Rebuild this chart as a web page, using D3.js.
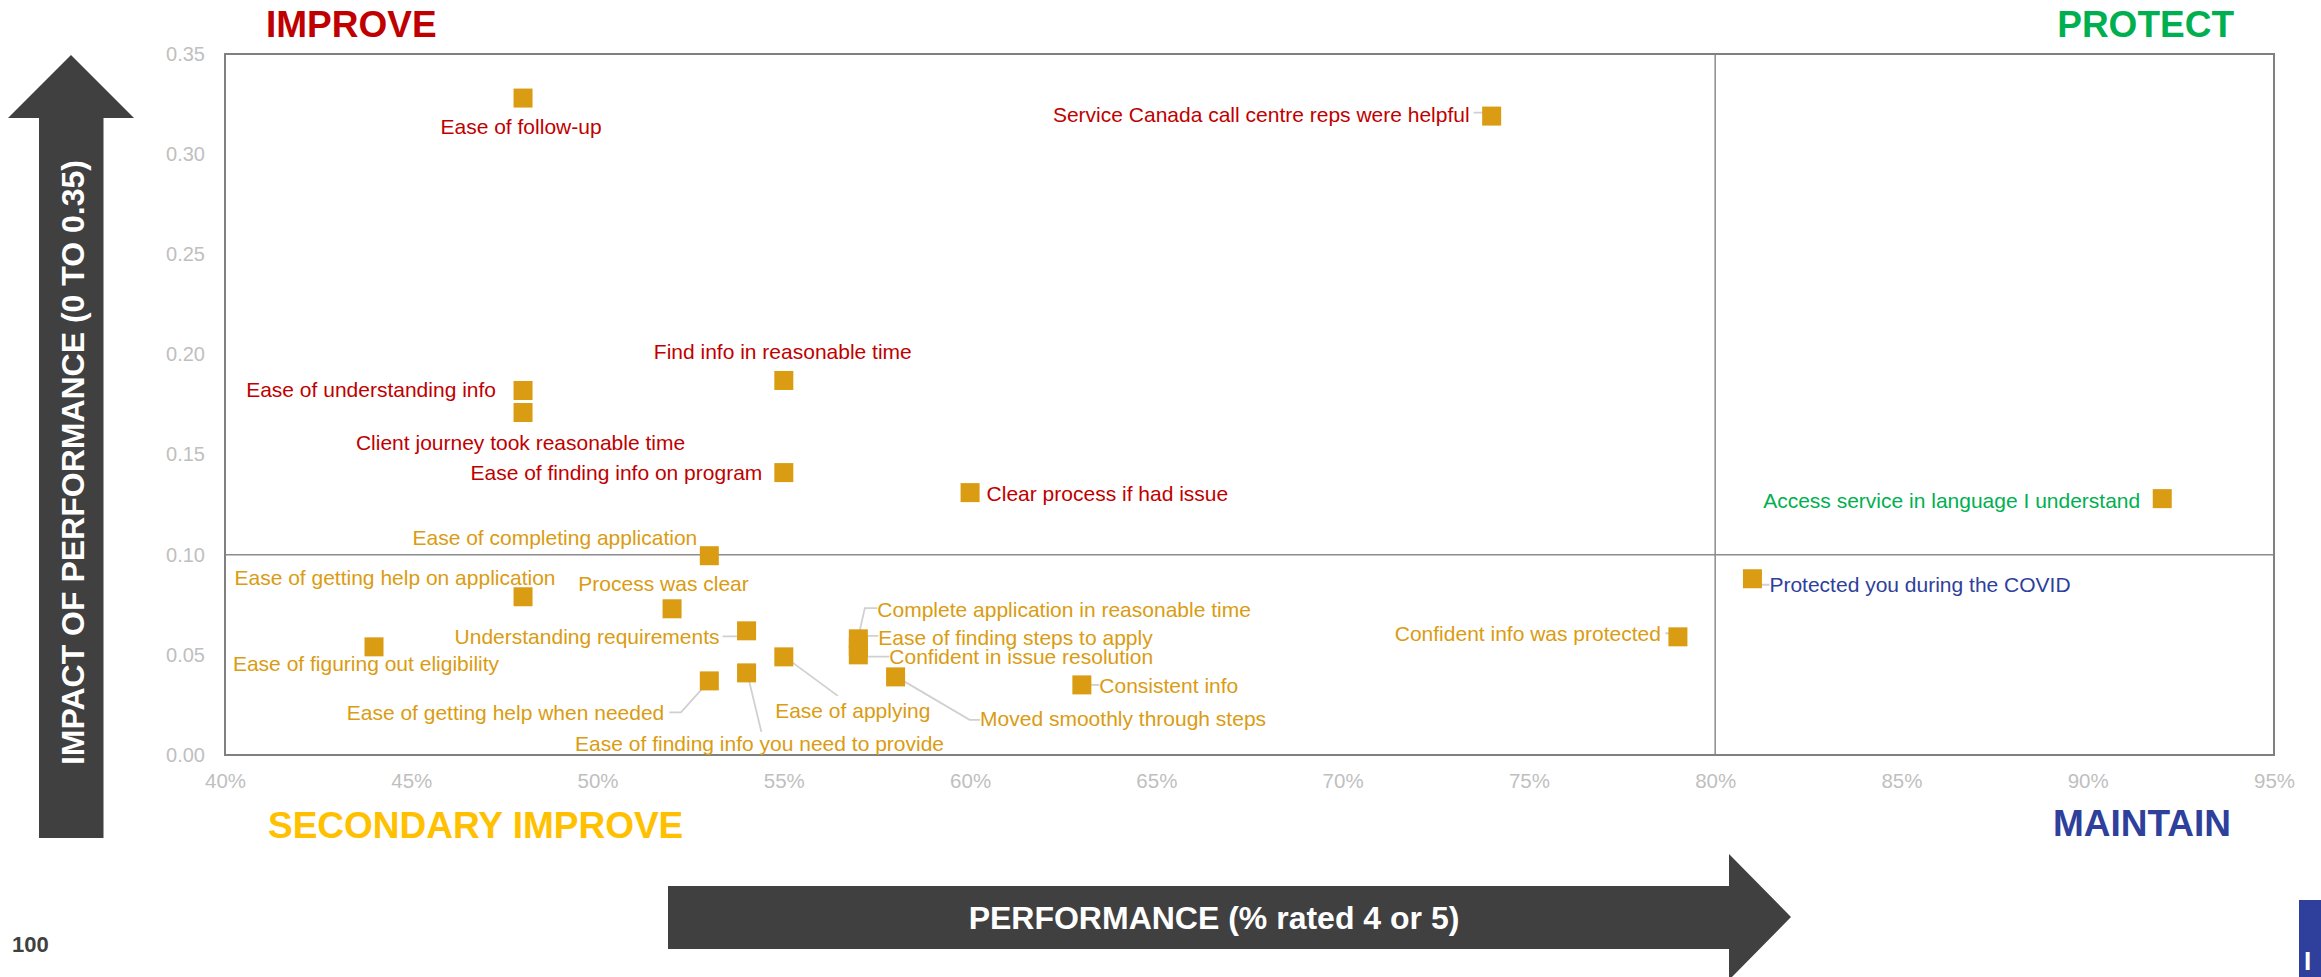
<!DOCTYPE html>
<html>
<head>
<meta charset="utf-8">
<script src="https://cdn.jsdelivr.net/npm/d3@7"></script>
<style>
  body { margin: 0; background: #fff; }
  svg { display: block; font-family: "Liberation Sans", Arial, sans-serif; }
</style>
</head>
<body>
<div id="container"></div>
<script>
/* DATA */
const attributes = [
  "Ease of follow-up",
  "Service Canada call centre reps were helpful",
  "Find info in reasonable time",
  "Ease of understanding info",
  "Client journey took reasonable time",
  "Ease of finding info on program",
  "Clear process if had issue",
  "Access service in language I understand",
  "Ease of completing application",
  "Protected you during the COVID",
  "Ease of getting help on application",
  "Process was clear",
  "Understanding requirements",
  "Ease of figuring out eligibility",
  "Complete application in reasonable time",
  "Ease of finding steps to apply",
  "Confident in issue resolution",
  "Ease of applying",
  "Moved smoothly through steps",
  "Consistent info",
  "Confident info was protected",
  "Ease of getting help when needed",
  "Ease of finding info you need to provide"
]
// performance = % rated 4 or 5
const performance = [0.48, 0.74, 0.55, 0.48, 0.48, 0.55, 0.60, 0.92, 0.53, 0.81, 0.48, 0.52,
  0.54, 0.44, 0.57, 0.57, 0.57, 0.55, 0.58, 0.63, 0.79, 0.53, 0.54]
// impact of performance
const impact = [0.328, 0.319, 0.187, 0.182, 0.171, 0.141, 0.131, 0.128, 0.0995, 0.088, 0.079, 0.073,
  0.062, 0.054, 0.058, 0.054, 0.050, 0.049, 0.039, 0.035, 0.059, 0.037, 0.041]

const xTicks = [0.40, 0.45, 0.50, 0.55, 0.60, 0.65, 0.70, 0.75, 0.80, 0.85, 0.90, 0.95]
const yTicks = [0, 0.05, 0.10, 0.15, 0.20, 0.25, 0.30, 0.35]
const performanceCut = 0.80
const impactCut = 0.10

/* CONSTANTS AND GLOBALS */
const width = 2321
const height = 977
const plot = { left: 225, right: 2274, top: 54, bottom: 755 }

const colors = {
  improve: "#c00000",
  secondary: "#da9c12",
  secondaryHead: "#ffc000",
  protect: "#00b050",
  maintain: "#2e3f9c",
  marker: "#da9c12",
  arrow: "#404040"
}

// label placement: [dx, dy, anchor, leader offsets]
const labelLayout = [
  [-2, 36, "middle"],
  [-22, 5.5, "end", [[-18, -3.5], [-4, -3.5], [0, 0]]],
  [-1, -21, "middle"],
  [-27, 7, "end"],
  [-2.5, 37, "middle"],
  [-21.5, 7, "end"],
  [16.5, 8, "start"],
  [-22, 9, "end"],
  [-12, -10.7, "end"],
  [17, 13, "start", [[0, 1], [6, 6], [17, 6]]],
  [32.5, -11.5, "end"],
  [-8.5, -18, "middle"],
  [-27, 13, "end", [[-24, 5.5], [-7, 5.5], [0, 0]]],
  [-8, 24, "middle"],
  [19, -22.3, "start", [[0, -2], [6.5, -30.7], [19, -30.7]]],
  [20, -2, "start", [[0, 0], [6.5, -11], [20, -11]]],
  [31, 9.3, "start", [[0, -1], [6.5, 1.7], [31, 1.7]]],
  [69, 61.5, "middle", [[1, 0], [54, 39]]],
  [84.5, 49, "start", [[1, 0], [74, 43], [84.5, 43]]],
  [17.5, 8, "start", [[0, 0], [17.5, 0]]],
  [-17, 4.5, "end", [[-12.5, -3.6], [-1.4, -3.6], [0, -1]]],
  [-45, 38.7, "end", [[0, 0], [-28.4, 31.4], [-40, 31.4]]],
  [13, 78.5, "middle", [[0.6, 0], [14.8, 59]]]
]

const data = attributes.map((name, i) => ({
  name,
  performance: performance[i],
  impact: impact[i],
  layout: labelLayout[i]
}))

function quadrantColor(d) {
  if (d.performance >= performanceCut) return d.impact >= impactCut ? colors.protect : colors.maintain
  return d.impact >= impactCut ? colors.improve : colors.secondary
}

/* SCALES */
const xScale = d3.scaleLinear()
  .domain([0.40, 0.95])
  .range([plot.left, plot.right])

const yScale = d3.scaleLinear()
  .domain([0, 0.35])
  .range([plot.bottom, plot.top])

/* HTML ELEMENTS */
const svg = d3.select("#container")
  .append("svg")
  .attr("width", width)
  .attr("height", height)

// axes
const xAxis = d3.axisBottom(xScale)
  .tickValues(xTicks)
  .tickFormat(d3.format(".0%"))
  .tickSize(0)
  .tickPadding(18)
svg.append("g")
  .attr("transform", `translate(0,${plot.bottom})`)
  .call(xAxis)
  .call(g => g.select(".domain").remove())
  .selectAll("text")
  .attr("fill", "#bfbfbf")
  .style("font-size", "20.5px")
  .style("font-family", "'Liberation Sans', Arial, sans-serif")

const yAxis = d3.axisLeft(yScale)
  .tickValues(yTicks)
  .tickFormat(d3.format(".2f"))
  .tickSize(0)
  .tickPadding(20)
svg.append("g")
  .attr("transform", `translate(${plot.left},0)`)
  .call(yAxis)
  .call(g => g.select(".domain").remove())
  .selectAll("text")
  .attr("fill", "#bfbfbf")
  .style("font-size", "20px")
  .style("font-family", "'Liberation Sans', Arial, sans-serif")

// quadrant dividers
svg.append("line")
  .attr("x1", xScale(performanceCut)).attr("x2", xScale(performanceCut))
  .attr("y1", plot.top).attr("y2", plot.bottom)
  .attr("stroke", "#8c8c8c").attr("stroke-width", 1.5)
svg.append("line")
  .attr("x1", plot.left).attr("x2", plot.right)
  .attr("y1", yScale(impactCut)).attr("y2", yScale(impactCut))
  .attr("stroke", "#8c8c8c").attr("stroke-width", 1.5)

// plot border
svg.append("rect")
  .attr("x", plot.left).attr("y", plot.top)
  .attr("width", plot.right - plot.left)
  .attr("height", plot.bottom - plot.top)
  .attr("fill", "none")
  .attr("stroke", "#808080")
  .attr("stroke-width", 2)

// leader lines
svg.selectAll("path.leader")
  .data(data.filter(d => d.layout[3]))
  .join("path")
  .attr("class", "leader")
  .attr("fill", "none")
  .attr("stroke", "#d0d0d0")
  .attr("stroke-width", 1.8)
  .attr("d", d => d3.line()(d.layout[3].map(p => [xScale(d.performance) + p[0], yScale(d.impact) + p[1]])))

// markers
const size = 19
svg.selectAll("rect.marker")
  .data(data)
  .join("rect")
  .attr("class", "marker")
  .attr("x", d => xScale(d.performance) - size / 2)
  .attr("y", d => yScale(d.impact) - size / 2)
  .attr("width", size)
  .attr("height", size)
  .attr("fill", colors.marker)

// labels
svg.selectAll("text.label")
  .data(data)
  .join("text")
  .attr("class", "label")
  .attr("x", d => xScale(d.performance) + d.layout[0])
  .attr("y", d => yScale(d.impact) + d.layout[1])
  .attr("text-anchor", d => d.layout[2])
  .attr("fill", d => quadrantColor(d))
  .style("font-size", "21px")
  .text(d => d.name)

// quadrant headings
const headings = [
  { text: "IMPROVE", x: 266, y: 37, anchor: "start", color: colors.improve },
  { text: "PROTECT", x: 2234, y: 37, anchor: "end", color: colors.protect },
  { text: "SECONDARY IMPROVE", x: 268, y: 838, anchor: "start", color: colors.secondaryHead },
  { text: "MAINTAIN", x: 2231, y: 836, anchor: "end", color: colors.maintain }
]
svg.selectAll("text.heading")
  .data(headings)
  .join("text")
  .attr("class", "heading")
  .attr("x", d => d.x)
  .attr("y", d => d.y)
  .attr("text-anchor", d => d.anchor)
  .attr("fill", d => d.color)
  .style("font-size", "37px")
  .style("font-weight", "bold")
  .text(d => d.text)

// y axis arrow
svg.append("path")
  .attr("fill", colors.arrow)
  .attr("d", "M71,55 L134,118 L103.5,118 L103.5,838 L39,838 L39,118 L8,118 Z")
svg.append("text")
  .attr("transform", "translate(84,160) rotate(-90)")
  .attr("text-anchor", "end")
  .attr("fill", "#fff")
  .style("font-size", "32px")
  .style("font-weight", "bold")
  .text("IMPACT OF PERFORMANCE (0 TO 0.35)")

// x axis arrow
svg.append("path")
  .attr("fill", colors.arrow)
  .attr("d", "M668,886 L1729,886 L1729,854 L1791,917 L1729,980 L1729,949 L668,949 Z")
svg.append("text")
  .attr("x", 1214)
  .attr("y", 929)
  .attr("text-anchor", "middle")
  .attr("fill", "#fff")
  .style("font-size", "32px")
  .style("font-weight", "bold")
  .text("PERFORMANCE (% rated 4 or 5)")

// page number
svg.append("text")
  .attr("x", 12)
  .attr("y", 952)
  .attr("fill", "#404040")
  .style("font-size", "22px")
  .style("font-weight", "bold")
  .text("100")

// corner tab
svg.append("rect")
  .attr("x", 2299).attr("y", 900)
  .attr("width", 30).attr("height", 80)
  .attr("fill", colors.maintain)
svg.append("text")
  .attr("x", 2304)
  .attr("y", 970)
  .attr("fill", "#fff")
  .style("font-size", "26px")
  .style("font-weight", "bold")
  .text("I")
</script>
</body>
</html>
